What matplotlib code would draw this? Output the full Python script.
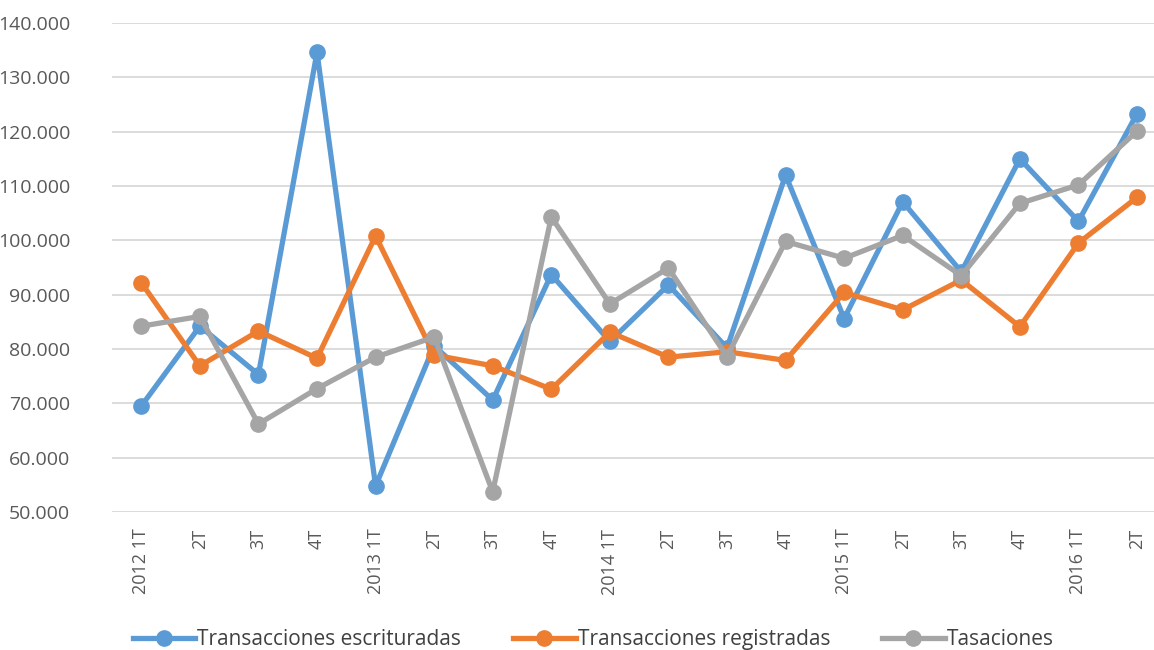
import matplotlib
matplotlib.use('Agg')
import matplotlib.pyplot as plt
from matplotlib.ticker import FuncFormatter, MultipleLocator
from matplotlib import font_manager

# Quarters and series values (thousands)
quarters = ['2012 1T', '2T', '3T', '4T', '2013 1T', '2T', '3T', '4T',
            '2014 1T', '2T', '3T', '4T', '2015 1T', '2T', '3T', '4T',
            '2016 1T', '2T']
escrituradas = [69.5, 84.2, 75.3, 134.6, 54.8, 80.6, 70.6, 93.7, 81.4,
                91.8, 80.2, 112.0, 85.6, 107.1, 94.2, 115.0, 103.5, 123.3]
registradas = [92.2, 76.9, 83.3, 78.3, 100.8, 78.9, 76.9, 72.6, 83.1,
               78.5, 79.5, 77.9, 90.4, 87.2, 92.7, 84.1, 99.5, 107.9]
tasaciones = [84.2, 86.0, 66.2, 72.7, 78.5, 82.2, 53.7, 104.3, 88.3,
              94.9, 78.6, 99.8, 96.7, 100.9, 93.5, 106.8, 110.2, 120.1]

names = [f.name for f in font_manager.fontManager.ttflist]
plt.rcParams['font.family'] = ['Open Sans', 'DejaVu Sans']
legend_font = 'Liberation Sans Narrow' if 'Liberation Sans Narrow' in names else 'Open Sans'

fig = plt.figure(figsize=(11.54, 6.5), dpi=100)
ax = fig.add_axes([112 / 1154, 1 - 512 / 650, 1 - 112 / 1154, (512 - 23) / 650])

x = range(len(quarters))
series = [(escrituradas, '#5B9BD5', 'Transacciones escrituradas'),
          (registradas, '#ED7D31', 'Transacciones registradas'),
          (tasaciones, '#A5A5A5', 'Tasaciones')]
for vals, col, lab in series:
    ax.plot(x, [v * 1000 for v in vals], color=col, lw=3.8, marker='o',
            markersize=11, label=lab, solid_joinstyle='round')

ax.set_ylim(50000, 140000)
ax.set_xlim(-0.5, 17.29)
ax.yaxis.set_major_locator(MultipleLocator(10000))
ax.yaxis.set_major_formatter(FuncFormatter(lambda v, p: f'{int(v):,}'.replace(',', '.')))
ax.set_xticks(list(x))
ax.set_xticklabels(quarters, rotation=90, va='top', ha='center')
ax.grid(axis='y', color='#D9D9D9', lw=1.3)
ax.set_axisbelow(True)
for s in ax.spines.values():
    s.set_visible(False)
ax.tick_params(axis='both', length=0, colors='#595959')
ax.tick_params(axis='y', labelsize=14, pad=30)
ax.tick_params(axis='x', labelsize=13, pad=12)

leg = fig.legend(loc='center', bbox_to_anchor=(0.514, 0.016), ncol=3, frameon=False,
                 handlelength=3.0, columnspacing=2.5, handletextpad=0.1,
                 prop={'family': legend_font, 'size': 15})
for t in leg.get_texts():
    t.set_color('#404040')

plt.savefig('out.png', dpi=100)
